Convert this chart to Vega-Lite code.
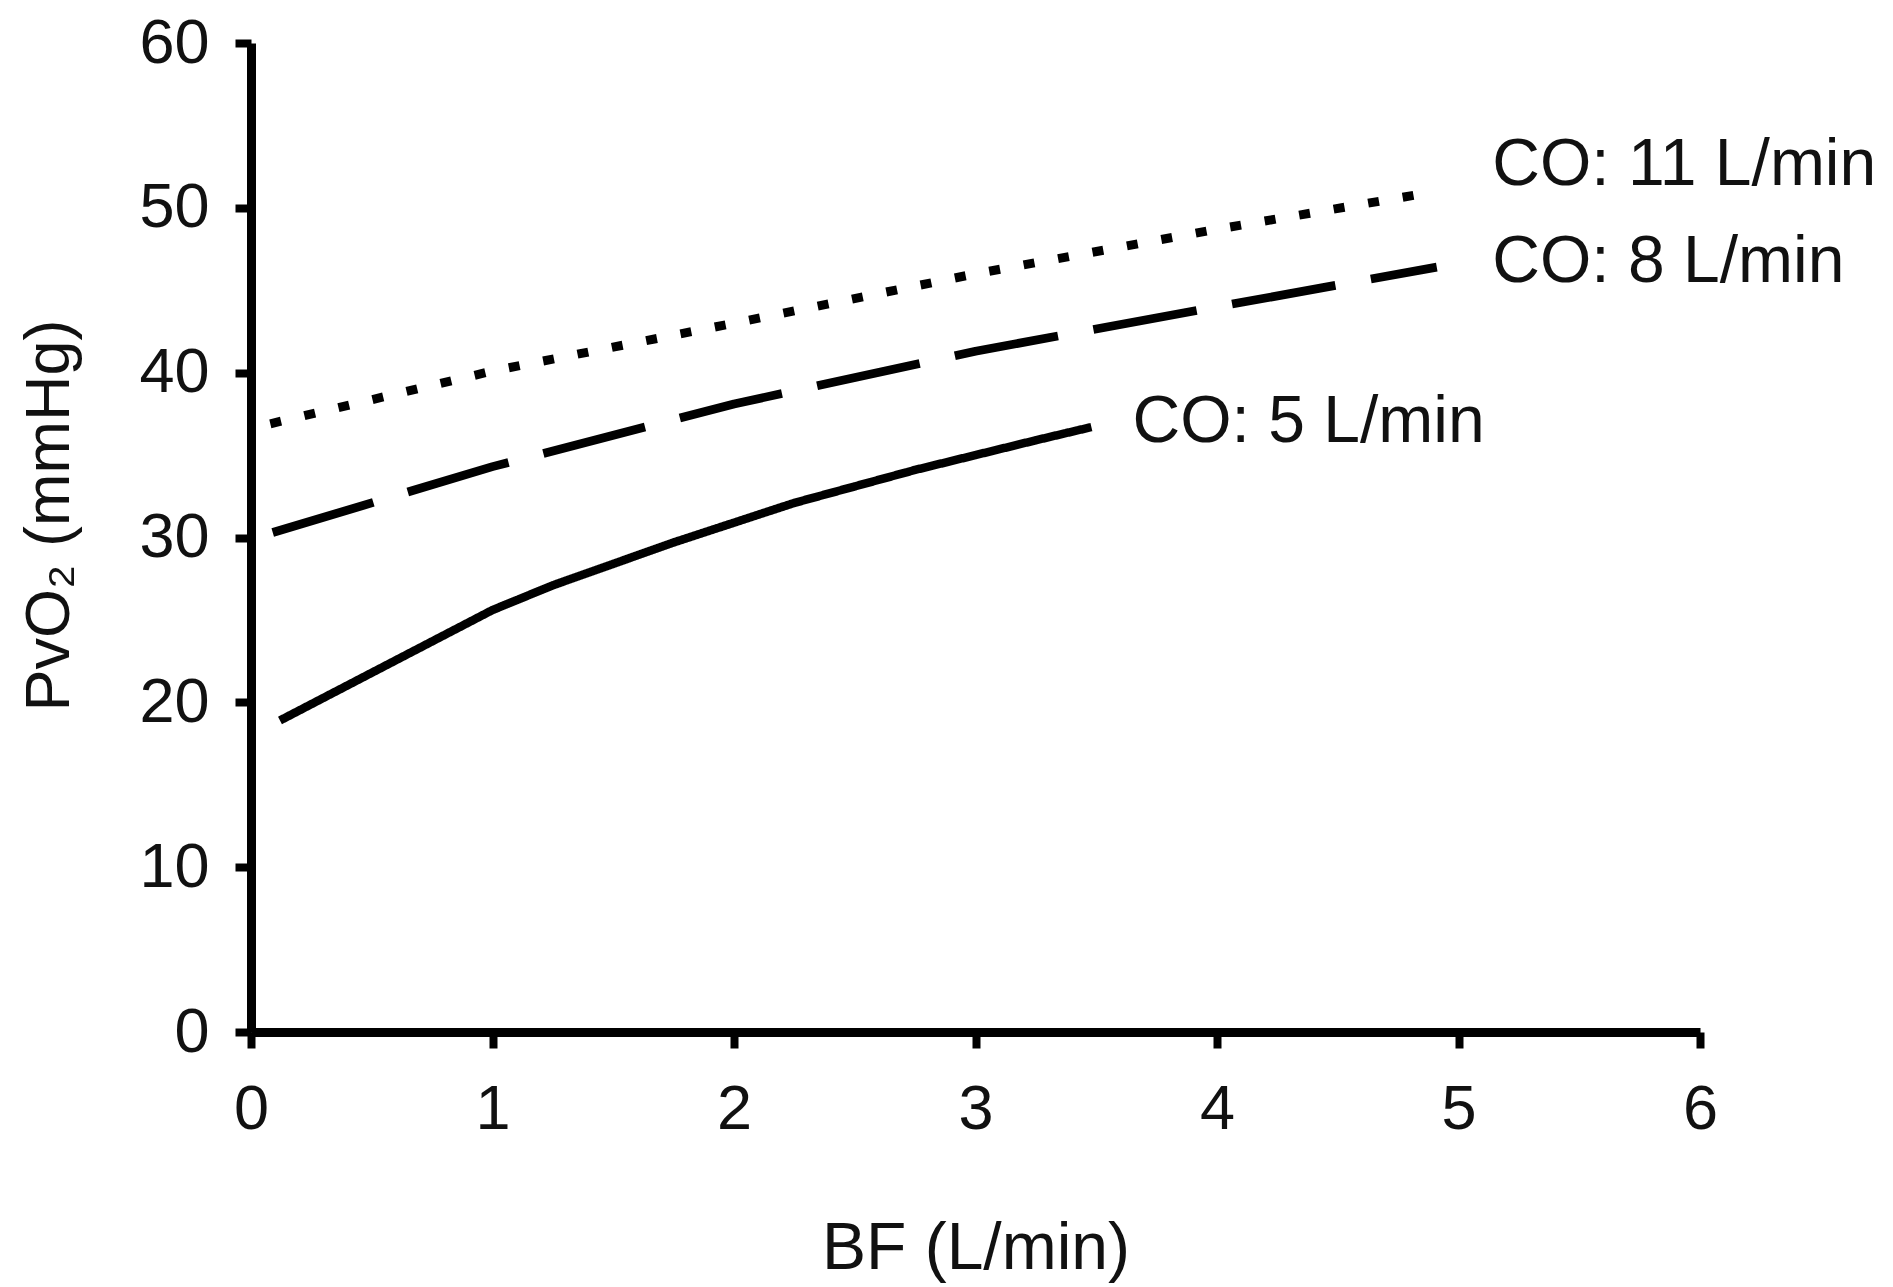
{
  "$schema": "https://vega.github.io/schema/vega-lite/v6.json",
  "width": 1449,
  "height": 989,
  "autosize": {"type": "none"},
  "padding": {"left": 251, "top": 43, "right": 193, "bottom": 255},
  "background": "white",
  "config": {
    "view": {"stroke": null},
    "font": "Liberation Sans",
    "axis": {
      "grid": false,
      "domainColor": "black",
      "domainWidth": 9,
      "tickColor": "black",
      "tickWidth": 8,
      "tickSize": 16,
      "labelColor": "#111",
      "titleColor": "#111",
      "labelFont": "Liberation Sans",
      "titleFont": "Liberation Sans",
      "titleFontWeight": "normal",
      "titleFontSize": 66,
      "labelFlush": false,
      "labelOverlap": false
    }
  },
  "datasets": {
    "curves": [
      {"series": "CO: 5 L/min", "bf": 0.12, "pvo2": 18.9},
      {"series": "CO: 5 L/min", "bf": 1.0, "pvo2": 25.6},
      {"series": "CO: 5 L/min", "bf": 1.25, "pvo2": 27.1},
      {"series": "CO: 5 L/min", "bf": 1.5, "pvo2": 28.4},
      {"series": "CO: 5 L/min", "bf": 1.75, "pvo2": 29.7},
      {"series": "CO: 5 L/min", "bf": 2.0, "pvo2": 30.9},
      {"series": "CO: 5 L/min", "bf": 2.25, "pvo2": 32.1},
      {"series": "CO: 5 L/min", "bf": 2.5, "pvo2": 33.1},
      {"series": "CO: 5 L/min", "bf": 2.75, "pvo2": 34.1},
      {"series": "CO: 5 L/min", "bf": 3.0, "pvo2": 35.0},
      {"series": "CO: 5 L/min", "bf": 3.25, "pvo2": 35.9},
      {"series": "CO: 5 L/min", "bf": 3.48, "pvo2": 36.7},
      {"series": "CO: 8 L/min", "bf": 0.09, "pvo2": 30.3},
      {"series": "CO: 8 L/min", "bf": 1.0, "pvo2": 34.3},
      {"series": "CO: 8 L/min", "bf": 2.0, "pvo2": 38.1},
      {"series": "CO: 8 L/min", "bf": 3.0, "pvo2": 41.3},
      {"series": "CO: 8 L/min", "bf": 4.0, "pvo2": 44.0},
      {"series": "CO: 8 L/min", "bf": 4.91, "pvo2": 46.4},
      {"series": "CO: 11 L/min", "bf": 0.08, "pvo2": 36.9},
      {"series": "CO: 11 L/min", "bf": 1.0, "pvo2": 40.1},
      {"series": "CO: 11 L/min", "bf": 2.0, "pvo2": 43.0},
      {"series": "CO: 11 L/min", "bf": 3.0, "pvo2": 46.0},
      {"series": "CO: 11 L/min", "bf": 4.0, "pvo2": 48.7},
      {"series": "CO: 11 L/min", "bf": 4.91, "pvo2": 51.0}
    ],
    "labels": [
      {"label": "CO: 11 L/min", "bf": 5.14, "pvo2": 51.4},
      {"label": "CO: 8 L/min", "bf": 5.14, "pvo2": 45.5},
      {"label": "CO: 5 L/min", "bf": 3.65, "pvo2": 35.8}
    ]
  },
  "layer": [
    {
      "data": {"name": "curves"},
      "mark": {"type": "line", "color": "black", "strokeCap": "butt", "strokeJoin": "round", "interpolate": "linear"},
      "encoding": {
        "x": {
          "field": "bf", "type": "quantitative",
          "scale": {"domain": [0, 6], "nice": false, "zero": false},
          "axis": {
            "values": [0, 1, 2, 3, 4, 5, 6],
            "format": "d",
            "labelFontSize": 63,
            "labelPadding": 30,
            "title": "BF (L/min)",
            "titleY": 236,
            "titleBaseline": "alphabetic"
          }
        },
        "y": {
          "field": "pvo2", "type": "quantitative",
          "scale": {"domain": [0, 60], "nice": false},
          "axis": {
            "values": [0, 10, 20, 30, 40, 50, 60],
            "format": "d",
            "labelFontSize": 63,
            "labelPadding": 26,
            "title": "PvO₂ (mmHg)",
            "titleFontSize": 63,
            "titleX": -183,
            "titleY": 472,
            "titleAngle": -90,
            "titleAlign": "center",
            "titleBaseline": "alphabetic"
          }
        },
        "detail": {"field": "series"},
        "strokeDash": {
          "field": "series", "type": "nominal",
          "scale": {
            "domain": ["CO: 5 L/min", "CO: 8 L/min", "CO: 11 L/min"],
            "range": [[1, 0], [105, 36], [11, 24]]
          },
          "legend": null
        },
        "strokeWidth": {
          "field": "series", "type": "nominal",
          "scale": {
            "domain": ["CO: 5 L/min", "CO: 8 L/min", "CO: 11 L/min"],
            "range": [8.5, 9, 11]
          },
          "legend": null
        }
      }
    },
    {
      "data": {"name": "labels"},
      "mark": {"type": "text", "align": "left", "baseline": "alphabetic", "fontSize": 66, "font": "Liberation Sans", "color": "#111"},
      "encoding": {
        "x": {"field": "bf", "type": "quantitative"},
        "y": {"field": "pvo2", "type": "quantitative"},
        "text": {"field": "label"}
      }
    }
  ]
}
